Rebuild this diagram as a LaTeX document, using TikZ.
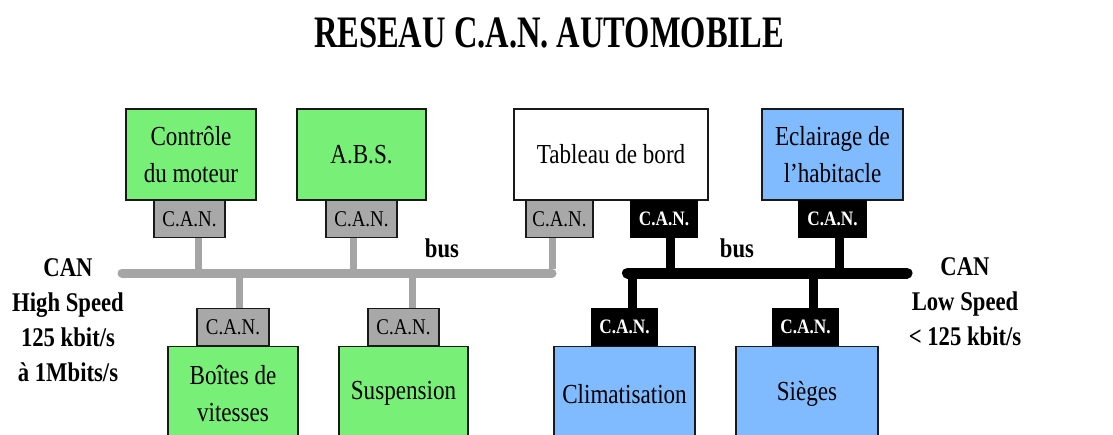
\documentclass[tikz,border=0pt]{standalone}
\usepackage{fontspec}
\setmainfont{Liberation Serif}[FakeStretch=0.84]
\definecolor{boxgreen}{RGB}{120,240,120}
\definecolor{boxblue}{RGB}{128,186,255}
\definecolor{cangray}{RGB}{168,168,168}
\definecolor{busgray}{RGB}{165,165,165}
\tikzset{
  box/.style={draw=black!90, line width=1.4pt, inner sep=2pt, align=center,
    font=\fontsize{27.5}{37.5}\selectfont},
  gbox/.style={box, fill=boxgreen},
  bbox/.style={box, fill=boxblue},
  wbox/.style={box, fill=white},
  topbox/.style={minimum height=91pt},
  botbox/.style={minimum height=94pt},
  cang/.style={draw=black!90, line width=1.2pt, fill=cangray, inner sep=0pt,
    minimum height=37pt, font=\fontsize{22.5}{24}\selectfont},
  canb/.style={draw=black, line width=1.2pt, fill=black, text=white, inner sep=0pt,
    minimum height=37pt, font=\fontsize{20.5}{24}\selectfont\bfseries},
  gbus/.style={draw=busgray, line width=9pt},
  gstub/.style={draw=busgray, line width=7pt},
  bbus/.style={draw=black, line width=11pt},
  bstub/.style={draw=black, line width=9pt},
  lbl/.style={align=center, font=\fontsize{27}{35}\selectfont\bfseries},
}
\begin{document}
\begin{tikzpicture}[x=1pt,y=-1pt]
\useasboundingbox (0,0) rectangle (1113,434);
\clip (0,0) rectangle (1113,434);
% title
\node[font=\fontsize{45}{50}\selectfont\bfseries] (title) at (549,33) {\scalebox{0.86}[1]{RESEAU C.A.N. AUTOMOBILE}};
% top boxes
\node[gbox, topbox, minimum width=130pt] (ctrl) at (191,154.5) {Contrôle\\du moteur};
\node[gbox, topbox, minimum width=129pt] (abs) at (361.5,154.5) {A.B.S.};
\node[wbox, topbox, minimum width=194pt] (tab) at (611,154.5) {Tableau de bord};
\node[bbox, topbox, minimum width=141pt] (ecl) at (832.5,154.5) {Eclairage de\\l'habitacle};
% top CAN
\node[cang, minimum width=71pt, anchor=north] (c1) at (189.5,200) {C.A.N.};
\node[cang, minimum width=71pt, anchor=north] (c2) at (361.5,200) {C.A.N.};
\node[cang, minimum width=67pt, anchor=north] (c3) at (559.5,200) {C.A.N.};
\node[canb, minimum width=66pt, anchor=north] (c4) at (664,200) {C.A.N.};
\node[canb, minimum width=67pt, anchor=north] (c5) at (832.5,200) {C.A.N.};
% bottom boxes
\node[gbox, botbox, minimum width=130pt, anchor=north] (boite) at (233,346) {Boîtes de\\vitesses};
\node[gbox, botbox, minimum width=129pt, anchor=north] (susp) at (403.5,346) {Suspension};
\node[bbox, botbox, minimum width=141pt, anchor=north] (clim) at (624.5,346) {Climatisation};
\node[bbox, botbox, minimum width=142pt, anchor=north] (sieg) at (807,346) {Sièges};
% bottom CAN
\node[cang, minimum width=72pt, anchor=south] (c6) at (233,346) {C.A.N.};
\node[cang, minimum width=71pt, anchor=south] (c7) at (403.5,346) {C.A.N.};
\node[canb, minimum width=65pt, anchor=south] (c8) at (624.5,346) {C.A.N.};
\node[canb, minimum width=65pt, anchor=south] (c9) at (805.5,346) {C.A.N.};
% bus coordinates
\coordinate (hsL) at (122,273);
\coordinate (lsR) at (907,273);
% high speed bus (gray)
\draw[gstub] ([xshift=8.5pt]c1.south) -- ([xshift=8.5pt]c1.south |- hsL);
\draw[gstub] ([xshift=-8.5pt]c2.south) -- ([xshift=-8.5pt]c2.south |- hsL);
\draw[gstub] ([xshift=6pt]c6.north) -- ([xshift=6pt]c6.north |- hsL);
\draw[gstub] ([xshift=8.5pt]c7.north) -- ([xshift=8.5pt]c7.north |- hsL);
\draw[gbus, line cap=round] (hsL) -- ([xshift=-7.5pt]c3.south |- hsL);
\draw[gstub] ([xshift=-7.5pt,yshift=4.5pt]c3.south |- hsL) -- ([xshift=-7.5pt]c3.south);
% low speed bus (black)
\draw[bstub] ([xshift=6pt]c4.south) -- ([xshift=6pt]c4.south |- lsR);
\draw[bstub] ([xshift=6.5pt]c5.south) -- ([xshift=6.5pt]c5.south |- lsR);
\draw[bstub] ([xshift=7.5pt]c9.north) -- ([xshift=7.5pt]c9.north |- lsR);
\draw[bstub] ([xshift=7.5pt]c8.north) -- ([xshift=7.5pt,yshift=-5pt]c8.north |- lsR);
\draw[bbus, line cap=round] ([xshift=3pt]c8.north |- lsR) -- (lsR);
% labels
\node[lbl] (bus1) at (442,248) {bus};
\node[lbl] (bus2) at (737,248) {bus};
\node[lbl] (hs) at (68,320) {CAN\\High Speed\\125 kbit/s\\à 1Mbits/s};
\node[lbl] (ls) at (965,302) {CAN\\Low Speed\\< 125 kbit/s};
\end{tikzpicture}
\end{document}
